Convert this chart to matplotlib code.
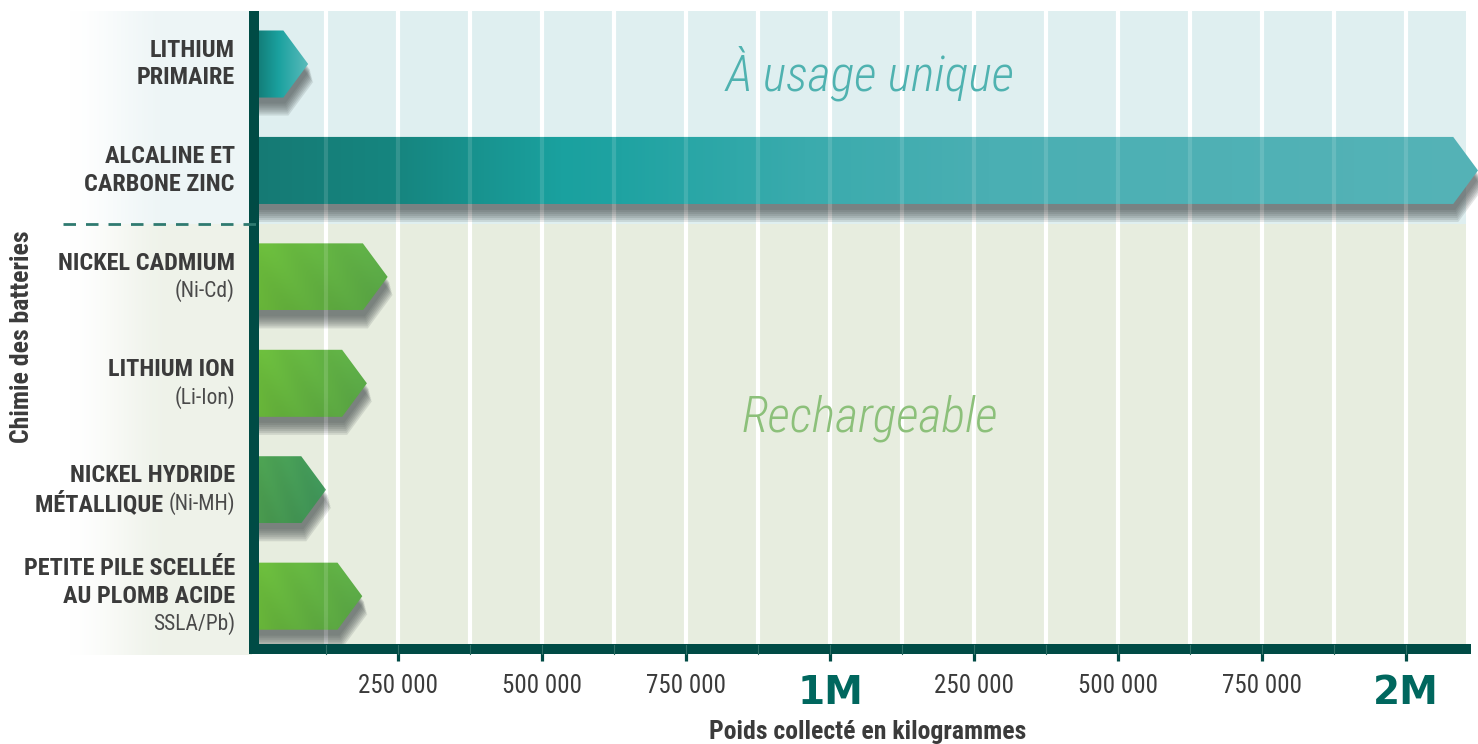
import numpy as np
import matplotlib
matplotlib.use("Agg")
import matplotlib.pyplot as plt
from matplotlib.patches import Polygon
from matplotlib.colors import to_rgb
from matplotlib import font_manager as fm
import matplotlib.transforms as mtransforms

# ---------------- data ----------------
category_lines = [["LITHIUM", "PRIMAIRE"],
                  ["ALCALINE ET", "CARBONE ZINC"],
                  ["NICKEL CADMIUM"],
                  ["LITHIUM ION"],
                  ["NICKEL HYDRIDE", "MÉTALLIQUE"],
                  ["PETITE PILE SCELLÉE", "AU PLOMB ACIDE"]]
codes = [None, None, "(Ni-Cd)", "(Li-Ion)", "(Ni-MH)", "SSLA/Pb)"]
code_inline = [False, False, False, False, True, False]
values = [94000, 2125000, 232000, 196000, 125000, 188000]
groups = ["single", "single", "rech", "rech", "rech", "rech"]
group_titles = {"single": "À usage unique", "rech": "Rechargeable"}
tick_values = [250000, 500000, 750000, 1000000, 1250000, 1500000, 1750000, 2000000]
tick_labels = ["250 000", "500 000", "750 000", "1M", "250 000", "500 000", "750 000", "2M"]
x_label = "Poids collecté en kilogrammes"
y_label = "Chimie des batteries"


# ---------------- fonts ----------------
def has_font(name):
    try:
        fm.findfont(fm.FontProperties(family=name), fallback_to_default=False)
        return True
    except Exception:
        return False


NARROW_NAME, SC = "DejaVu Sans", 0.74
for name, sc in [("Liberation Sans Narrow", 1.0), ("Roboto Condensed", 1.0),
                 ("Arial Narrow", 1.0), ("Roboto", 0.84), ("Lato", 0.84)]:
    if has_font(name):
        NARROW_NAME, SC = name, sc
        break
NARROW = [NARROW_NAME, "DejaVu Sans"]

# ---------------- style ----------------
W, H, DPI = 1478, 744, 100
DARK = "#004b45"
TEXT = "#3b3b3b"
bar_stops = [
    [(0.0, "#117670"), (0.45, "#1aa19f"), (1.0, "#5dbcbc")],
    [(0.0, "#157a74"), (0.12, "#168680"), (0.25, "#1aa19f"), (0.3, "#1fa3a2"),
     (0.45, "#3aabad"), (0.6, "#4aafb3"), (1.0, "#55b3b7")],
    [(0.0, "#6ab93a"), (1.0, "#5aa847")],
    [(0.0, "#6ab93a"), (1.0, "#5aa847")],
    [(0.0, "#4c9e4f"), (1.0, "#3f955a")],
    [(0.0, "#6ab93a"), (1.0, "#5aa847")],
]
group_bg = {"single": "#dfeff0", "rech": "#e7eddf"}
panel_bg = {"single": "#edf5f6", "rech": "#eef2e9"}
title_color = {"single": "#4fb2b0", "rech": "#8cc07a"}
bar_h = 0.63
tip = 43000
line_gap = 0.259

fig = plt.figure(figsize=(W / DPI, H / DPI), dpi=DPI)

bg = fig.add_axes([0, 0, 1, 1], zorder=-5)
bg.axis("off")

x0, x1 = 254, 1466
ytop, ybot = 10.8, 649.4
ax = fig.add_axes([x0 / W, 1 - ybot / H, (x1 - x0) / W, (ybot - ytop) / H])
xmax = 2125000 * (x1 - x0) / (1478 - x0)
n = len(values)

# label panel gradient
px0, px1, py0, py1 = 65, 252, 11, 655
ph, pw = int(py1 - py0), int(px1 - px0)
yy = np.arange(ph) + py0
sep_px = ytop + 2 * (ybot - ytop) / n
img = np.zeros((ph, pw, 4))
top_c, bot_c = np.array(to_rgb(panel_bg["single"])), np.array(to_rgb(panel_bg["rech"]))
img[:, :, :3] = np.where((yy < sep_px)[:, None, None], top_c, bot_c)
ramp = np.clip(np.arange(pw) / 110.0, 0, 1)
ramp = ramp * ramp * (3 - 2 * ramp)
img[:, :, 3] = ramp[None, :]
bg.imshow(img, extent=(px0, px1, py1, py0), aspect="auto", interpolation="bilinear")
bg.set_xlim(0, W)
bg.set_ylim(H, 0)

# group backgrounds
ax.axhspan(-0.5, 1.5, color=group_bg["single"], zorder=0, lw=0)
ax.axhspan(1.5, n - 0.5, color=group_bg["rech"], zorder=0, lw=0)

grid_x = np.arange(125000, xmax, 125000)
for gx in grid_x:
    ax.axvline(gx, color="white", lw=3.0, zorder=1)


def gradient_rgba(stops, nx=400, ny=60, diag=0.0):
    xs = np.linspace(0, 1, nx)
    pos = [s[0] for s in stops]
    cols = np.array([to_rgb(s[1]) for s in stops])
    base = np.stack([np.interp(xs, pos, cols[:, k]) for k in range(3)], axis=-1)
    out = np.repeat(base[None, :, :], ny, axis=0)
    if diag:
        yv = np.linspace(0, 1, ny)[:, None]
        xv = np.linspace(0, 1, nx)[None, :]
        shade = 1 - diag * (yv - 0.5) + 0.012 * np.sin((xv * 3 - yv) * 6.0)
        out = np.clip(out * shade[:, :, None], 0, 1)
    a = np.ones((ny, nx, 1))
    return np.concatenate([out, a], axis=-1)


for i, v in enumerate(values):
    yc = i
    verts = [(0, yc - bar_h / 2), (v - tip, yc - bar_h / 2), (v, yc),
             (v - tip, yc + bar_h / 2), (0, yc + bar_h / 2)]
    for k, dy in enumerate([6, 8, 10, 12, 14, 16, 18]):
        tr = ax.transData + mtransforms.Affine2D().translate(2 + k * 0.5, -dy)
        sh = Polygon(verts, closed=True, facecolor="#4a5252", edgecolor="none",
                     alpha=0.15, transform=tr, zorder=2, clip_on=False)
        ax.add_patch(sh)
    poly = Polygon(verts, closed=True, facecolor="none", edgecolor="none", zorder=3)
    ax.add_patch(poly)
    diag = 0.07 if groups[i] == "rech" else 0.0
    im = ax.imshow(gradient_rgba(bar_stops[i], diag=diag),
                   extent=(0, v, yc - bar_h / 2, yc + bar_h / 2),
                   origin="lower", aspect="auto", interpolation="bilinear", zorder=3)
    im.set_clip_box(fig.bbox)
    im.set_clip_path(poly)

for gx in grid_x:
    ax.axvline(gx, color="white", lw=3.0, alpha=0.13, zorder=4)

ax.set_xlim(0, xmax)
ax.set_ylim(n - 0.5, -0.5)

for s in ["top", "right"]:
    ax.spines[s].set_visible(False)
for s in ["left", "bottom"]:
    ax.spines[s].set_linewidth(7.2)
    ax.spines[s].set_color(DARK)
    ax.spines[s].set_zorder(6)
ax.spines["bottom"].set_capstyle("projecting")
ax.spines["left"].set_capstyle("butt")
ax.set_yticks([])
ax.set_xticks(tick_values)
ax.set_xticklabels(tick_labels)
ax.tick_params(axis="x", direction="out", length=8.5, width=2.3, color=DARK, pad=9)
for lab, txt in zip(ax.get_xticklabels(), tick_labels):
    if txt.endswith("M"):
        lab.set_fontfamily(["DejaVu Sans"])
        lab.set_fontweight("bold")
        lab.set_fontsize(28)
        lab.set_color("#00675e")
    else:
        lab.set_fontfamily(NARROW)
        lab.set_fontsize(18 * SC)
        lab.set_color(TEXT)

bar_tr = ax.get_xaxis_transform()
for gx in grid_x:
    ax.plot([gx, gx], [0.007, -0.007], transform=bar_tr, color="#2f6e66",
            lw=0.8, clip_on=False, zorder=7)

ytr = ax.get_yaxis_transform()
ax.plot([-0.158, 0.007], [1.5, 1.5], transform=ytr, color="#2f7a70", lw=2.0,
        dashes=(4.5, 3.6), clip_on=False, zorder=8)

lx = -19 / (x1 - x0)
for i, lines in enumerate(category_lines):
    rows = [[l] for l in lines]
    if codes[i] is not None:
        if code_inline[i]:
            rows[-1].append(codes[i])
        else:
            rows.append([None, codes[i]])
    m = len(rows)
    for k, row in enumerate(rows):
        yk = i + (k - (m - 1) / 2) * line_gap
        main = row[0]
        code = row[1] if len(row) > 1 else None
        if code is not None:
            ct = ax.text(lx, yk, code, transform=ytr, ha="right", va="center",
                         fontfamily=NARROW, fontsize=15.5 * SC, color="#4a4a4a")
            if main is not None:
                ax.annotate(main + " ", xy=(0, 0.5), xycoords=ct, ha="right", va="center",
                            fontfamily=NARROW, fontsize=17.5 * SC, fontweight="bold",
                            color=TEXT, annotation_clip=False)
        else:
            ax.text(lx, yk, main, transform=ytr, ha="right", va="center",
                    fontfamily=NARROW, fontsize=17.5 * SC, fontweight="bold", color=TEXT)

for g, yv in [("single", 0.09), ("rech", 3.33)]:
    ax.text(0.508, yv, group_titles[g], transform=ytr, ha="center", va="center",
            fontfamily=NARROW, fontsize=36 * SC, fontstyle="italic", fontweight="light",
            color=title_color[g], zorder=5)

fig.text(868 / W, 1 - 732 / H, x_label, ha="center", va="center",
         fontfamily=NARROW, fontsize=18.5 * SC, fontweight="bold", color=TEXT)
fig.text(22 / W, 1 - 337 / H, y_label, ha="center", va="center", rotation=90,
         fontfamily=NARROW, fontsize=18.5 * SC, fontweight="bold", color=TEXT)

fig.savefig("out.png", dpi=DPI)
